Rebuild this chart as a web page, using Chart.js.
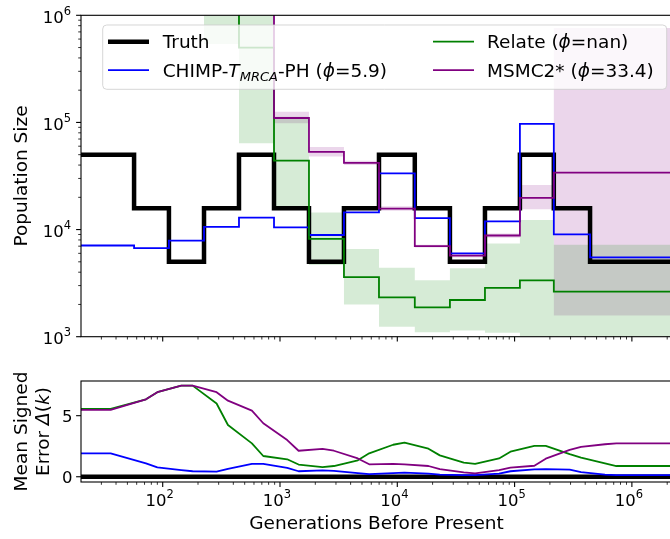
<!DOCTYPE html>
<html>
<head>
<meta charset="utf-8">
<script src="https://cdn.jsdelivr.net/npm/chart.js@4.4.1/dist/chart.umd.min.js"></script>
<style>
  html, body { margin: 0; padding: 0; background: #fff; overflow: hidden; }
  canvas { position: absolute; left: 0; top: 0; }
</style>
</head>
<body>
<canvas id="popChart" width="680" height="539"></canvas>
<canvas id="errChart" width="680" height="539"></canvas>
<script>
// piecewise-constant histories: each value holds from its start time to the next one
const stepStarts = [10, 57, 113, 225, 447, 889, 1766, 3510, 6980, 14100, 28100, 55900, 111000, 216000, 440000];
const stepEnd = 1e7;

const truthSize  = [5e4, 1.58e4, 5e3, 1.58e4, 5e4, 1.58e4, 5e3, 1.58e4, 5e4, 1.58e4, 5e3, 1.58e4, 5e4, 1.58e4, 5e3];
const chimpSize  = [7.1e3, 6.7e3, 7.9e3, 1.06e4, 1.29e4, 1.05e4, 8.9e3, 1.45e4, 3.35e4, 1.28e4, 6.0e3, 1.19e4, 9.7e4, 9.0e3, 5.5e3];
const relateSize = [3e6, 3e6, 3e6, 3e6, 5e5, 4.4e4, 8.2e3, 3.6e3, 2.33e3, 1.88e3, 2.2e3, 2.85e3, 3.35e3, 2.63e3, 2.63e3];
const relateLo   = [3e6, 3e6, 3e6, 5.4e5, 6.4e4, 1.62e4, 4.67e3, 2.0e3, 1.24e3, 1.1e3, 1.14e3, 1.09e3, 900, 800, 800];
const relateHi   = [3e6, 3e6, 3e6, 5e6, 5e6, 1.13e5, 1.44e4, 6.6e3, 4.4e3, 3.37e3, 4.35e3, 7.4e3, 1.23e4, 7.2e3, 7.2e3];
const msmcSize   = [3e6, 3e6, 3e6, 3e6, 3e6, 1.1e5, 5.3e4, 4.2e4, 1.57e4, 7.0e3, 5.7e3, 8.8e3, 1.98e4, 3.4e4, 3.4e4];
const msmcLo     = [3e6, 3e6, 3e6, 3e6, 3e6, 9.8e4, 4.8e4, 4.0e4, 1.5e4, 6.8e3, 5.5e3, 8.4e3, 1.55e4, 1.58e3, 1.58e3];
const msmcHi     = [3e6, 3e6, 3e6, 3e6, 3e6, 1.26e5, 5.9e4, 4.4e4, 1.65e4, 7.2e3, 5.9e3, 9.2e3, 2.6e4, 7.6e5, 7.6e5];

// mean signed error, evaluated on a grid of generations
const errGens   = [18, 36, 72, 90, 144, 180, 288, 360, 576, 720, 1152, 1440, 2304, 2880, 4608, 5760, 9216, 11520,
                   18432, 23040, 36864, 46080, 73728, 92160, 147456, 184320, 294912, 368640, 589824, 737280, 3000000];
const truthErr  = [0, 0, 0, 0, 0, 0, 0, 0, 0, 0, 0, 0, 0, 0, 0, 0, 0, 0, 0, 0, 0, 0, 0, 0, 0, 0, 0, 0, 0, 0, 0];
const chimpErr  = [1.92, 1.92, 1.1, 0.77, 0.55, 0.45, 0.42, 0.65, 1.05, 1.05, 0.72, 0.45, 0.52, 0.48, 0.3, 0.22,
                   0.3, 0.33, 0.25, 0.18, 0.13, 0.13, 0.25, 0.45, 0.6, 0.63, 0.58, 0.38, 0.18, 0.13, 0.13];
const relateErr = [5.55, 5.55, 6.34, 6.92, 7.46, 7.46, 6.0, 4.24, 2.73, 1.7, 1.43, 1.0, 0.78, 0.88, 1.35, 1.92,
                   2.62, 2.8, 2.3, 1.75, 1.15, 1.05, 1.5, 2.05, 2.52, 2.52, 1.85, 1.56, 1.1, 0.88, 0.88];
const msmcErr   = [5.47, 5.47, 6.34, 6.92, 7.46, 7.46, 6.92, 6.23, 5.41, 4.38, 3.0, 2.13, 2.28, 2.13, 1.5, 1.02,
                   1.05, 1.02, 0.88, 0.62, 0.35, 0.27, 0.55, 0.74, 0.9, 1.48, 2.2, 2.45, 2.66, 2.74, 2.74];

const genTicks = [1e2, 1e3, 1e4, 1e5, 1e6];
const popTicks = [1e3, 1e4, 1e5, 1e6];
const errTicks = [0, 5];

const genMin = 20.11, genMax = 2.198e6;

const FONT = '"DejaVu Sans", "Liberation Sans", sans-serif';
const BLUE = '#0000ff', GREEN = '#008000', PURPLE = '#800080';

function stepPoints(values) {
  const pts = stepStarts.map((x, i) => ({ x, y: values[i] }));
  pts.push({ x: stepEnd, y: values[values.length - 1] });
  return pts;
}
function gridPoints(values) {
  return errGens.map((x, i) => ({ x, y: values[i] }));
}

function setFont(ctx, size, italic) {
  ctx.font = (italic ? 'italic ' : '') + size + 'px ' + FONT;
}
function richWidth(ctx, parts) {
  let w = 0;
  parts.forEach(p => { setFont(ctx, p.size, p.italic); w += ctx.measureText(p.t).width; });
  return w;
}
function drawRich(ctx, parts, x, y) {
  ctx.textAlign = 'left';
  ctx.textBaseline = 'alphabetic';
  parts.forEach(p => {
    setFont(ctx, p.size, p.italic);
    ctx.fillText(p.t, x, y + (p.dy || 0));
    x += ctx.measureText(p.t).width;
  });
}
function powParts(v) {
  return [{ t: '10', size: 16.5 }, { t: String(Math.round(Math.log10(v))), size: 11.5, dy: -7.7 }];
}
// rotated (bottom-to-top) label centred on cy, baseline at bx
function drawVertical(ctx, parts, bx, cy) {
  ctx.save();
  ctx.translate(bx, cy);
  ctx.rotate(-Math.PI / 2);
  drawRich(ctx, parts, -richWidth(ctx, parts) / 2, 0);
  ctx.restore();
}

function minorLogValues(min, max) {
  const out = [];
  for (let e = Math.floor(Math.log10(min)); e <= Math.ceil(Math.log10(max)); e++) {
    for (let m = 2; m < 10; m++) {
      const v = m * Math.pow(10, e);
      if (v >= min && v <= max) out.push(v);
    }
  }
  return out;
}

function tick(ctx, x0, y0, x1, y1, w) {
  ctx.lineWidth = w;
  ctx.beginPath();
  ctx.moveTo(x0, y0);
  ctx.lineTo(x1, y1);
  ctx.stroke();
}

// frame, ticks and labels drawn by hand so the powers of ten get real superscripts
function axesPlugin(opts) {
  return {
    id: 'axesDecor',
    afterDraw(chart) {
      const { ctx, chartArea: a, scales: { x, y } } = chart;
      ctx.save();
      ctx.strokeStyle = '#000';
      ctx.fillStyle = '#000';

      ctx.lineWidth = 1.1;
      ctx.strokeRect(a.left, a.top, a.right - a.left, a.bottom - a.top);

      minorLogValues(x.min, x.max).forEach(v => {
        const px = x.getPixelForValue(v);
        tick(ctx, px, a.bottom, px, a.bottom + 2.8, 0.8);
      });
      genTicks.forEach(v => {
        const px = x.getPixelForValue(v);
        tick(ctx, px, a.bottom, px, a.bottom + 4.9, 1.1);
        if (opts.xLabels) {
          const parts = powParts(v);
          drawRich(ctx, parts, px - richWidth(ctx, parts) / 2 - 3, a.bottom + 24);
        }
      });

      if (opts.logY) {
        minorLogValues(y.min, y.max).forEach(v => {
          const py = y.getPixelForValue(v);
          tick(ctx, a.left, py, a.left - 2.8, py, 0.8);
        });
        popTicks.forEach(v => {
          const py = y.getPixelForValue(v);
          tick(ctx, a.left, py, a.left - 4.9, py, 1.1);
          const parts = powParts(v);
          drawRich(ctx, parts, 71 - richWidth(ctx, parts), py + 7.4);
        });
      } else {
        errTicks.forEach(v => {
          const py = y.getPixelForValue(v);
          tick(ctx, a.left, py, a.left - 4.9, py, 1.1);
          setFont(ctx, 16.5, false);
          ctx.textAlign = 'right';
          ctx.textBaseline = 'alphabetic';
          ctx.fillText(String(v), 72.5, py + 6.5);
        });
      }

      opts.yLabel.forEach(line => drawVertical(ctx, line.parts, line.x, (a.top + a.bottom) / 2));

      if (opts.xLabel) {
        const parts = [{ t: opts.xLabel, size: 18.5 }];
        drawRich(ctx, parts, (a.left + a.right) / 2 - richWidth(ctx, parts) / 2, a.bottom + 47);
      }
      if (opts.legend) opts.legend(ctx);
      ctx.restore();
    }
  };
}

function drawLegend(ctx) {
  const bx = 102.7, by = 25, bw = 564, bh = 64.3, r = 4;
  ctx.beginPath();
  ctx.moveTo(bx + r, by);
  ctx.arcTo(bx + bw, by, bx + bw, by + bh, r);
  ctx.arcTo(bx + bw, by + bh, bx, by + bh, r);
  ctx.arcTo(bx, by + bh, bx, by, r);
  ctx.arcTo(bx, by, bx + bw, by, r);
  ctx.closePath();
  ctx.fillStyle = 'rgba(255,255,255,0.8)';
  ctx.fill();
  ctx.strokeStyle = 'rgba(204,204,204,0.8)';
  ctx.lineWidth = 1;
  ctx.stroke();

  const S = 18.5;
  const entries = [
    { col: 0, row: 0, color: '#000', w: 4.5, parts: [{ t: 'Truth', size: S }] },
    { col: 0, row: 1, color: BLUE, w: 1.8, parts: [
      { t: 'CHIMP-', size: S }, { t: 'T', size: S, italic: true },
      { t: 'MRCA', size: 13, italic: true, dy: 4 }, { t: '-PH (', size: S },
      { t: 'ϕ', size: S, italic: true }, { t: '=5.9)', size: S }] },
    { col: 1, row: 0, color: GREEN, w: 1.8, parts: [
      { t: 'Relate (', size: S }, { t: 'ϕ', size: S, italic: true }, { t: '=nan)', size: S }] },
    { col: 1, row: 1, color: PURPLE, w: 1.8, parts: [
      { t: 'MSMC2* (', size: S }, { t: 'ϕ', size: S, italic: true }, { t: '=33.4)', size: S }] }
  ];
  const handleX = [108, 433], textX = [162.7, 487], rowY = [41.7, 70.1];
  entries.forEach(e => {
    const y = rowY[e.row];
    ctx.strokeStyle = e.color;
    ctx.lineWidth = e.w;
    ctx.lineCap = 'butt';
    ctx.beginPath();
    ctx.moveTo(handleX[e.col], y);
    ctx.lineTo(handleX[e.col] + 41, y);
    ctx.stroke();
    ctx.fillStyle = '#000';
    drawRich(ctx, e.parts, textX[e.col], y + 6.7);
  });
}

function stepLine(data, color, width, order) {
  return {
    data: stepPoints(data), borderColor: color, borderWidth: width, stepped: 'before',
    borderJoinStyle: 'miter', fill: false, pointRadius: 0, order
  };
}
function band(data, fillColor, fill) {
  return {
    data: stepPoints(data), borderColor: 'transparent', borderWidth: 0, stepped: 'before',
    backgroundColor: fillColor, fill, pointRadius: 0, order: 10
  };
}
function errLine(data, color, width, order) {
  return {
    data: gridPoints(data), borderColor: color, borderWidth: width, tension: 0,
    borderJoinStyle: 'round', fill: false, pointRadius: 0, order
  };
}

const common = {
  responsive: false,
  animation: false,
  devicePixelRatio: 1,
  events: [],
  plugins: { legend: { display: false }, tooltip: { enabled: false } }
};

new Chart(document.getElementById('popChart'), {
  type: 'line',
  data: {
    datasets: [
      band(relateHi, 'rgba(0,128,0,0.16)', '+1'),
      band(relateLo, 'transparent', false),
      band(msmcHi, 'rgba(128,0,128,0.16)', '+1'),
      band(msmcLo, 'transparent', false),
      stepLine(truthSize, '#000', 4.5, 4),
      stepLine(chimpSize, BLUE, 1.8, 3),
      stepLine(relateSize, GREEN, 1.8, 2),
      stepLine(msmcSize, PURPLE, 1.8, 1)
    ]
  },
  options: {
    ...common,
    layout: { padding: { left: 81, right: 8, top: 15.3, bottom: 202.3 } },
    scales: {
      x: { type: 'logarithmic', min: genMin, max: genMax, display: false },
      y: { type: 'logarithmic', min: 1e3, max: 1e6, display: false }
    }
  },
  plugins: [axesPlugin({
    logY: true, xLabels: false,
    yLabel: [{ x: 26.8, parts: [{ t: 'Population Size', size: 18.5 }] }],
    legend: drawLegend
  })]
});

new Chart(document.getElementById('errChart'), {
  type: 'line',
  data: {
    datasets: [
      errLine(truthErr, '#000', 4.5, 4),
      errLine(chimpErr, BLUE, 1.8, 3),
      errLine(relateErr, GREEN, 1.8, 2),
      errLine(msmcErr, PURPLE, 1.8, 1)
    ]
  },
  options: {
    ...common,
    layout: { padding: { left: 81, right: 8, top: 381, bottom: 57 } },
    scales: {
      x: { type: 'logarithmic', min: genMin, max: genMax, display: false },
      y: { type: 'linear', min: -0.43, max: 7.84, display: false }
    }
  },
  plugins: [axesPlugin({
    logY: false, xLabels: true,
    xLabel: 'Generations Before Present',
    yLabel: [
      { x: 26.8, parts: [{ t: 'Mean Signed', size: 18.5 }] },
      { x: 48.5, parts: [{ t: 'Error ', size: 18.5 }, { t: 'Δ', size: 18.5, italic: true },
                         { t: '(', size: 18.5 }, { t: 'k', size: 18.5, italic: true }, { t: ')', size: 18.5 }] }
    ]
  })]
});
</script>
</body>
</html>
